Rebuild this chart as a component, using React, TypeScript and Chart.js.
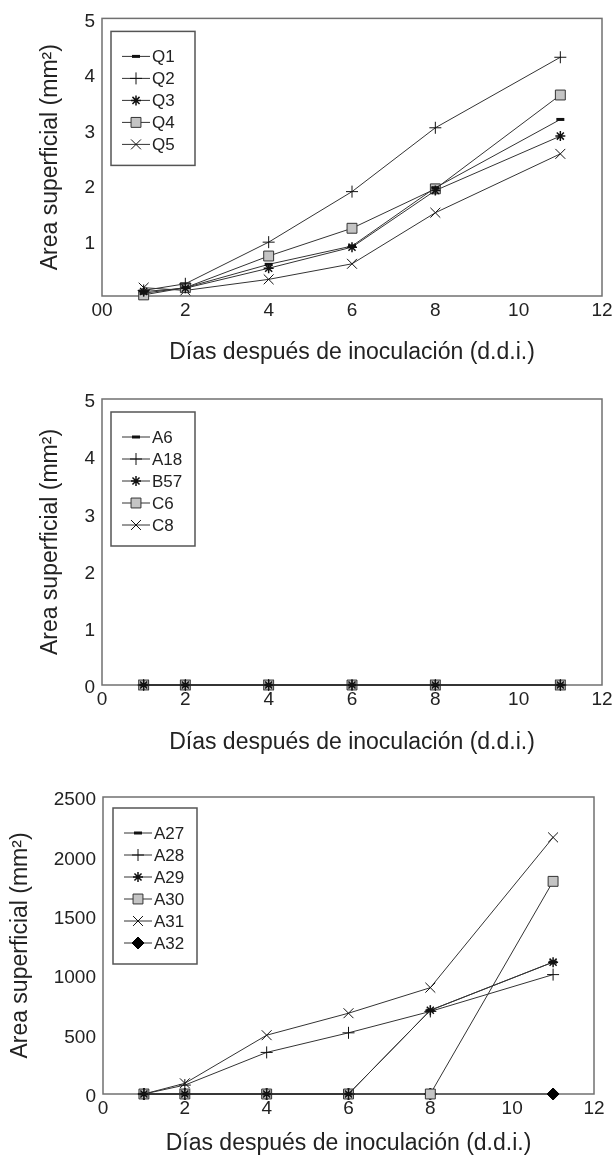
import React, { useEffect, useRef } from 'react';
import { Chart, registerables } from 'chart.js';
import { drawPoint } from 'chart.js/helpers';

Chart.register(...registerables);

// ---------- data ----------
const days = [1, 2, 4, 6, 8, 11];

const q1 = [0.05, 0.15, 0.57, 0.9, 1.95, 3.18];
const q2 = [0.1, 0.22, 0.97, 1.88, 3.03, 4.3];
const q3 = [0.08, 0.14, 0.5, 0.88, 1.9, 2.88];
const q4 = [0.02, 0.15, 0.72, 1.22, 1.93, 3.62];
const q5 = [0.15, 0.1, 0.3, 0.58, 1.5, 2.56];
const panel1Labels = ['Q1', 'Q2', 'Q3', 'Q4', 'Q5'];

const a6 = [0, 0, 0, 0, 0, 0];
const a18 = [0, 0, 0, 0, 0, 0];
const b57 = [0, 0, 0, 0, 0, 0];
const c6 = [0, 0, 0, 0, 0, 0];
const c8 = [0, 0, 0, 0, 0, 0];
const panel2Labels = ['A6', 'A18', 'B57', 'C6', 'C8'];

const a27 = [0, 0, 0, 0, 705, 1110];
const a28 = [0, 75, 350, 515, 695, 1005];
const a29 = [0, 0, 0, 0, 705, 1110];
const a30 = [0, 0, 0, 0, 0, 1790];
const a31 = [0, 90, 495, 680, 895, 2160];
const a32 = [0, 0, 0, 0, 0, 0];
const panel3Labels = ['A27', 'A28', 'A29', 'A30', 'A31', 'A32'];

const xTitle = 'Días después de inoculación (d.d.i.)';
const yTitle = 'Area superficial (mm²)';

// ---------- styles ----------
const FONT = '"Liberation Sans", Arial, Helvetica, sans-serif';
const markerStyles: Record<string, any> = {
  dash: { pointStyle: 'line', pointRadius: 4, pointBorderWidth: 3, pointBackgroundColor: '#111', pointBorderColor: '#111' },
  plus: { pointStyle: 'cross', pointRadius: 6, pointBorderWidth: 1, pointBackgroundColor: '#111', pointBorderColor: '#111' },
  star: { pointStyle: 'star', pointRadius: 5, pointBorderWidth: 1.5, pointBackgroundColor: '#111', pointBorderColor: '#111' },
  square: { pointStyle: 'rect', pointRadius: 7, pointBorderWidth: 1, pointBackgroundColor: '#c4c4c4', pointBorderColor: '#333' },
  xmark: { pointStyle: 'crossRot', pointRadius: 7, pointBorderWidth: 1, pointBackgroundColor: '#111', pointBorderColor: '#111' },
  diamond: { pointStyle: 'rectRot', pointRadius: 6, pointBorderWidth: 1, pointBackgroundColor: '#000', pointBorderColor: '#000' },
};
const markerOrder = ['dash', 'plus', 'star', 'square', 'xmark', 'diamond'];

const frameLegendPlugin = {
  id: 'frameLegend',
  beforeDatasetsDraw(chart: any) {
    const { ctx, chartArea: a } = chart;
    ctx.save();
    ctx.strokeStyle = '#707070';
    ctx.lineWidth = 1.5;
    ctx.strokeRect(a.left, a.top, a.right - a.left, a.bottom - a.top);
    ctx.restore();
  },
  afterDatasetsDraw(chart: any, _args: any, opts: any) {
    const { ctx, chartArea: a } = chart;
    const ds = chart.data.datasets;
    const x0 = a.left + opts.dx;
    const y0 = a.top + opts.dy;
    const w = 84;
    const h = 24 + ds.length * 22;
    ctx.save();
    ctx.fillStyle = '#fff';
    ctx.fillRect(x0, y0, w, h);
    ctx.strokeStyle = '#555';
    ctx.lineWidth = 1.5;
    ctx.strokeRect(x0, y0, w, h);
    ds.forEach((d: any, i: number) => {
      const cy = y0 + 25 + i * 22;
      const cx = x0 + 25;
      ctx.strokeStyle = '#333';
      ctx.lineWidth = 1;
      ctx.beginPath();
      ctx.moveTo(cx - 14, cy);
      ctx.lineTo(cx + 14, cy);
      ctx.stroke();
      ctx.fillStyle = d.pointBackgroundColor;
      ctx.strokeStyle = d.pointBorderColor;
      ctx.lineWidth = d.pointBorderWidth;
      drawPoint(ctx, { pointStyle: d.pointStyle, rotation: 0, radius: d.pointRadius, borderWidth: d.pointBorderWidth } as any, cx, cy);
      ctx.fillStyle = '#222';
      ctx.font = '17px ' + FONT;
      ctx.textBaseline = 'middle';
      ctx.textAlign = 'left';
      ctx.fillText(d.label, cx + 16, cy + 1);
    });
    ctx.restore();
  },
};

type PanelSpec = {
  series: number[][];
  labels: string[];
  yMax: number;
  yStep: number;
  hideYZero: boolean;
  xZeroLabel: string;
  height: number;
  padTop: number;
  padRight: number;
  yWidth: number;
  xHeight: number;
  xTitlePadBottom: number;
  yTitlePadTop: number;
  legendDx: number;
  legendDy: number;
};

function buildConfig(p: PanelSpec): any {
  return {
    type: 'line',
    data: {
      labels: days,
      datasets: p.series.map((vals, i) => ({
        label: p.labels[i],
        data: days.map((d, j) => ({ x: d, y: vals[j] })),
        borderColor: '#333',
        borderWidth: 1,
        fill: false,
        tension: 0,
        clip: false,
        ...markerStyles[markerOrder[i]],
      })),
    },
    options: {
      animation: false,
      responsive: false,
      layout: { padding: { left: 0, right: p.padRight, top: p.padTop, bottom: 0 } },
      plugins: {
        legend: { display: false },
        tooltip: { enabled: false },
        frameLegend: { dx: p.legendDx, dy: p.legendDy },
      },
      scales: {
        x: {
          type: 'linear',
          min: 0,
          max: 12,
          grid: { display: false, drawTicks: false },
          border: { display: false },
          ticks: {
            stepSize: 2,
            padding: 3,
            color: '#222',
            font: { family: FONT, size: 19 },
            callback: (v: number) => (v === 0 ? p.xZeroLabel : String(v)),
          },
          title: {
            display: true,
            text: xTitle,
            color: '#222',
            font: { family: FONT, size: 23 },
            padding: { top: 0, bottom: p.xTitlePadBottom },
          },
          afterFit: (s: any) => {
            s.height = p.xHeight;
          },
        },
        y: {
          type: 'linear',
          min: 0,
          max: p.yMax,
          grid: { display: false, drawTicks: false },
          border: { display: false },
          ticks: {
            stepSize: p.yStep,
            padding: 7,
            labelOffset: 3,
            color: '#222',
            font: { family: FONT, size: 19 },
            callback: (v: number) => (v === 0 && p.hideYZero ? '' : String(v)),
          },
          title: {
            display: true,
            text: yTitle,
            color: '#222',
            font: { family: FONT, size: 23 },
            padding: { top: p.yTitlePadTop, bottom: 0 },
          },
          afterFit: (s: any) => {
            s.width = p.yWidth;
          },
        },
      },
    },
    plugins: [frameLegendPlugin],
  };
}

const panels: PanelSpec[] = [
  {
    series: [q1, q2, q3, q4, q5],
    labels: panel1Labels,
    yMax: 5,
    yStep: 1,
    hideYZero: true,
    xZeroLabel: '00',
    height: 380,
    padTop: 11,
    padRight: 14,
    yWidth: 102,
    xHeight: 84,
    xTitlePadBottom: 14,
    yTitlePadTop: 37,
    legendDx: 9,
    legendDy: 13,
  },
  {
    series: [a6, a18, b57, c6, c8],
    labels: panel2Labels,
    yMax: 5,
    yStep: 1,
    hideYZero: false,
    xZeroLabel: '0',
    height: 395,
    padTop: 19,
    padRight: 14,
    yWidth: 102,
    xHeight: 90,
    xTitlePadBottom: 19,
    yTitlePadTop: 37,
    legendDx: 9,
    legendDy: 13,
  },
  {
    series: [a27, a28, a29, a30, a31, a32],
    labels: panel3Labels,
    yMax: 2500,
    yStep: 500,
    hideYZero: false,
    xZeroLabel: '0',
    height: 382,
    padTop: 22,
    padRight: 22,
    yWidth: 103,
    xHeight: 63,
    xTitlePadBottom: 0,
    yTitlePadTop: 7,
    legendDx: 10,
    legendDy: 11,
  },
];

function Panel({ spec }: { spec: PanelSpec }) {
  const ref = useRef<HTMLCanvasElement | null>(null);
  useEffect(() => {
    if (!ref.current) return;
    const chart = new Chart(ref.current, buildConfig(spec));
    return () => chart.destroy();
  }, [spec]);
  return <canvas ref={ref} width={616} height={spec.height} style={{ display: 'block', width: 616, height: spec.height }} />;
}

export default function App() {
  return (
    <div style={{ position: 'absolute', left: 0, top: 0, width: 616, height: 1157, background: '#fff' }}>
      {panels.map((p, i) => (
        <Panel key={i} spec={p} />
      ))}
    </div>
  );
}
